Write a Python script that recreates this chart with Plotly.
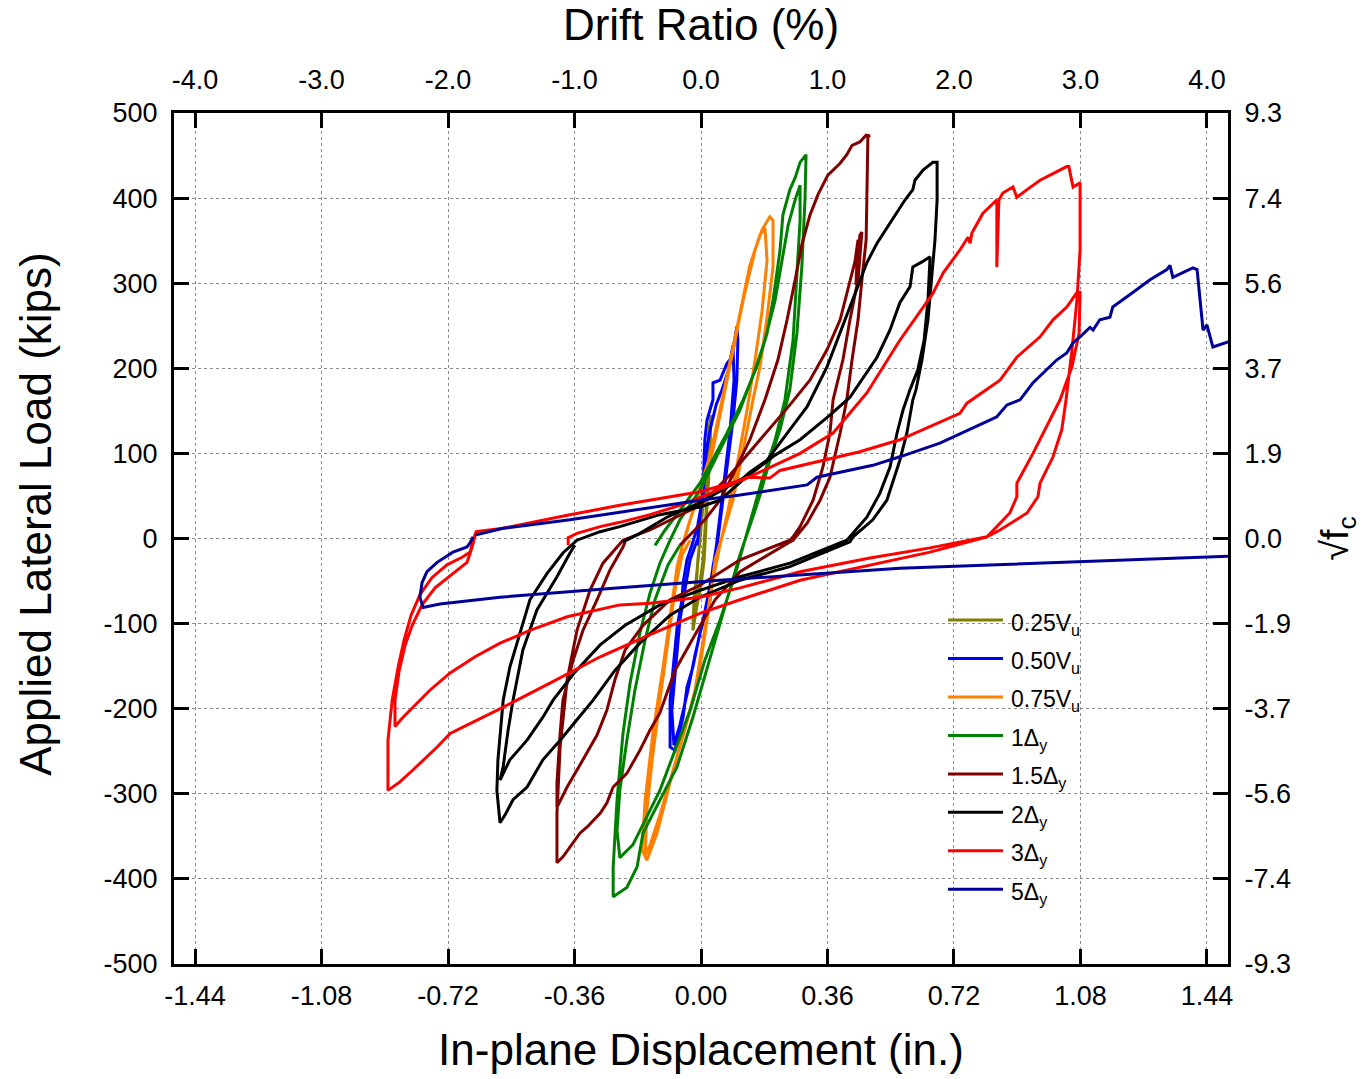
import plotly.graph_objects as go

# In-plane displacement (in.) vs. applied lateral load (kips) for each loading stage.
LOAD_025VU = [(-0.003, -2), (0.003, 39), (0.011, 80), (0.020, 116), (0.028, 145), (0.026, 104),
              (0.020, 57), (0.014, 10), (0.009, -25), (0.000, -55), (-0.011, -78), (-0.023, -108),
              (-0.020, -72), (-0.011, -37), (-0.003, -2), (0.006, 39), (0.014, 80), (0.023, 116),
              (0.020, 69), (0.014, 22), (0.006, -25), (-0.006, -61), (-0.017, -90), (-0.014, -61),
              (-0.009, -25), (-0.003, -2)]

LOAD_050VU = [(-0.011, -8), (-0.003, 22), (0.006, 61), (0.011, 116), (0.017, 139), (0.034, 163),
              (0.034, 183), (0.054, 186), (0.074, 206), (0.088, 213), (0.102, 249), (0.105, 233),
              (0.102, 186), (0.091, 139), (0.077, 92), (0.063, 45), (0.054, 16), (0.046, -8),
              (0.034, -33), (0.026, -72), (-0.003, -111), (-0.023, -151), (-0.040, -175),
              (-0.051, -210), (-0.074, -249), (-0.088, -245), (-0.088, -190), (-0.074, -131),
              (-0.068, -104), (-0.054, -72), (-0.051, -52), (-0.040, -25), (-0.026, -8),
              (-0.009, 16), (0.006, 51), (0.014, 98), (0.026, 128), (0.043, 157), (0.060, 175),
              (0.077, 196), (0.091, 227), (0.094, 186), (0.083, 128), (0.068, 75), (0.054, 28),
              (0.043, -11), (0.026, -55), (0.006, -96), (-0.017, -137), (-0.037, -178),
              (-0.060, -219), (-0.077, -243), (-0.083, -202), (-0.071, -143), (-0.060, -96),
              (-0.046, -61), (-0.031, -25), (-0.011, -2)]

LOAD_075VU = [(-0.051, -8), (-0.031, 22), (0.006, 65), (0.034, 104), (0.063, 163), (0.091, 222),
              (0.120, 280), (0.154, 339), (0.174, 363), (0.196, 378), (0.205, 374), (0.205, 319),
              (0.188, 260), (0.168, 202), (0.148, 163), (0.120, 104), (0.091, 45), (0.063, 6),
              (0.040, -25), (0.026, -72), (-0.003, -151), (-0.023, -190), (-0.051, -229),
              (-0.088, -287), (-0.125, -346), (-0.154, -378), (-0.168, -366), (-0.159, -307),
              (-0.137, -229), (-0.108, -151), (-0.088, -92), (-0.068, -33), (-0.051, -5),
              (-0.031, 22), (-0.003, 57), (0.026, 98), (0.054, 151), (0.083, 210), (0.111, 268),
              (0.139, 321), (0.168, 357), (0.182, 365), (0.188, 327), (0.174, 268), (0.154, 210),
              (0.131, 151), (0.105, 92), (0.077, 33), (0.054, -8), (0.031, -55), (0.006, -119),
              (-0.017, -178), (-0.046, -225), (-0.083, -278), (-0.117, -325), (-0.145, -360),
              (-0.159, -372), (-0.154, -319), (-0.139, -260), (-0.117, -190), (-0.094, -119),
              (-0.074, -61), (-0.054, -19), (-0.031, -2)]

LOAD_1DY = [(-0.131, -8), (-0.102, 10), (-0.060, 33), (-0.003, 65), (0.074, 124), (0.120, 163),
            (0.159, 202), (0.188, 241), (0.205, 280), (0.225, 339), (0.233, 380), (0.253, 410),
            (0.268, 424), (0.282, 442), (0.299, 451), (0.296, 398), (0.287, 319), (0.273, 241),
            (0.253, 175), (0.225, 128), (0.196, 92), (0.168, 51), (0.145, 22), (0.125, -2),
            (0.111, -19), (0.097, -39), (0.074, -72), (0.046, -111), (0.017, -151), (-0.023, -210),
            (-0.068, -268), (-0.117, -307), (-0.165, -346), (-0.182, -386), (-0.211, -410),
            (-0.250, -421), (-0.250, -386), (-0.239, -307), (-0.222, -229), (-0.202, -170),
            (-0.174, -111), (-0.145, -64), (-0.117, -29), (-0.088, -2), (-0.060, 22), (-0.003, 57),
            (0.054, 104), (0.111, 151), (0.154, 198), (0.182, 233), (0.211, 280), (0.231, 327),
            (0.248, 368), (0.268, 398), (0.282, 415), (0.282, 374), (0.273, 304), (0.262, 233),
            (0.239, 163), (0.211, 116), (0.174, 69), (0.145, 28), (0.125, -2), (0.097, -43),
            (0.054, -96), (0.011, -143), (-0.031, -202), (-0.074, -249), (-0.117, -296),
            (-0.159, -331), (-0.194, -360), (-0.231, -375), (-0.239, -343), (-0.231, -296),
            (-0.211, -237), (-0.188, -178), (-0.159, -119), (-0.131, -72), (-0.094, -31),
            (-0.060, -8)]

LOAD_15DY = [(-0.060, -8), (-0.031, 4), (0.011, 22), (0.054, 45), (0.091, 75), (0.139, 116),
             (0.182, 163), (0.219, 210), (0.245, 257), (0.268, 304), (0.287, 345), (0.310, 380),
             (0.333, 404), (0.361, 427), (0.396, 441), (0.415, 451), (0.430, 462), (0.452, 466),
             (0.470, 474), (0.481, 473), (0.475, 472), (0.472, 398), (0.470, 351), (0.458, 304),
             (0.447, 257), (0.430, 210), (0.415, 163), (0.396, 124), (0.367, 72), (0.339, 45),
             (0.302, 18), (0.262, -2), (0.253, -4), (0.111, -39), (0.040, -72), (-0.017, -113),
             (-0.074, -155), (-0.117, -205), (-0.145, -225), (-0.174, -249), (-0.211, -276),
             (-0.250, -292), (-0.268, -311), (-0.287, -323), (-0.324, -339), (-0.344, -346),
             (-0.373, -363), (-0.393, -374), (-0.410, -381), (-0.410, -323), (-0.401, -245),
             (-0.381, -166), (-0.353, -108), (-0.316, -61), (-0.279, -29), (-0.239, -10),
             (-0.222, -2), (-0.145, 10), (-0.088, 22), (-0.003, 39), (0.083, 75), (0.168, 116),
             (0.253, 157), (0.310, 186), (0.359, 222), (0.396, 257), (0.418, 292), (0.438, 325),
             (0.447, 351), (0.441, 298), (0.452, 356), (0.458, 360), (0.447, 304), (0.424, 257),
             (0.404, 210), (0.376, 163), (0.367, 124), (0.347, 84), (0.319, 45), (0.282, 14),
             (0.262, 2), (0.253, -2), (0.111, -25), (-0.003, -55), (-0.088, -72), (-0.165, -102),
             (-0.216, -131), (-0.245, -166), (-0.268, -202), (-0.296, -231), (-0.336, -260),
             (-0.381, -292), (-0.410, -316), (-0.410, -287), (-0.401, -229), (-0.393, -190),
             (-0.364, -143), (-0.336, -108), (-0.296, -72), (-0.259, -37), (-0.222, -10),
             (-0.216, -4)]

LOAD_2DY = [(-0.222, -4), (-0.174, 6), (-0.097, 25), (-0.003, 42), (0.026, 49), (0.097, 66),
            (0.120, 71), (0.139, 78), (0.188, 92), (0.253, 128), (0.302, 155), (0.359, 202),
            (0.424, 272), (0.472, 324), (0.501, 347), (0.538, 371), (0.581, 398), (0.603, 410),
            (0.609, 421), (0.632, 433), (0.660, 442), (0.672, 442), (0.672, 398), (0.666, 351),
            (0.657, 304), (0.646, 257), (0.629, 210), (0.612, 175), (0.603, 163), (0.586, 124),
            (0.566, 92), (0.529, 45), (0.489, 22), (0.452, 8), (0.433, 2), (0.424, -4),
            (0.253, -33), (0.111, -49), (-0.003, -69), (-0.088, -90), (-0.174, -123),
            (-0.245, -155), (-0.307, -190), (-0.353, -213), (-0.401, -237), (-0.450, -260),
            (-0.495, -292), (-0.535, -307), (-0.558, -325), (-0.572, -334), (-0.581, -296),
            (-0.578, -260), (-0.572, -229), (-0.563, -190), (-0.544, -151), (-0.515, -111),
            (-0.487, -72), (-0.438, -41), (-0.393, -17), (-0.353, -2), (-0.287, 8), (-0.231, 14),
            (-0.117, 28), (-0.003, 37), (0.054, 45), (0.125, 71), (0.211, 98), (0.282, 116),
            (0.367, 145), (0.424, 166), (0.467, 192), (0.501, 213), (0.538, 245), (0.566, 277),
            (0.595, 296), (0.603, 319), (0.629, 325), (0.652, 331), (0.646, 280), (0.635, 233),
            (0.617, 198), (0.595, 175), (0.575, 151), (0.558, 124), (0.538, 84), (0.509, 53),
            (0.472, 25), (0.424, 2), (0.415, -2), (0.253, -29), (0.111, -45), (-0.003, -61),
            (-0.117, -78), (-0.216, -102), (-0.287, -125), (-0.359, -157), (-0.421, -190),
            (-0.450, -210), (-0.495, -237), (-0.544, -260), (-0.572, -284), (-0.563, -268),
            (-0.549, -225), (-0.535, -190), (-0.507, -131), (-0.467, -84), (-0.410, -45),
            (-0.373, -17), (-0.359, -8)]

LOAD_3DY = [(-0.378, -8), (-0.378, 1), (-0.353, 6), (-0.287, 14), (-0.231, 19), (-0.145, 28),
            (-0.060, 39), (0.026, 53), (0.131, 72), (0.196, 71), (0.225, 80), (0.319, 89),
            (0.452, 102), (0.566, 116), (0.737, 147), (0.757, 159), (0.851, 186), (0.899, 213),
            (0.965, 237), (1.002, 257), (1.041, 272), (1.070, 289), (1.079, 289), (1.076, 241),
            (1.056, 202), (1.022, 163), (0.979, 128), (0.945, 100), (0.899, 65), (0.899, 49),
            (0.879, 30), (0.814, 2), (0.652, -16), (0.481, -31), (0.282, -49), (0.111, -72),
            (-0.003, -88), (-0.145, -113), (-0.287, -139), (-0.430, -170), (-0.581, -202),
            (-0.714, -229), (-0.751, -245), (-0.820, -272), (-0.857, -286), (-0.891, -296),
            (-0.891, -237), (-0.879, -190), (-0.862, -151), (-0.845, -119), (-0.825, -90),
            (-0.800, -66), (-0.766, -46), (-0.723, -31), (-0.680, -22), (-0.657, -16),
            (-0.649, -2), (-0.640, 8), (-0.563, 12), (-0.373, 28), (-0.231, 39), (-0.003, 55),
            (0.120, 69), (0.282, 100), (0.376, 124), (0.472, 171), (0.566, 233), (0.660, 288),
            (0.689, 312), (0.737, 339), (0.760, 354), (0.766, 347), (0.771, 359), (0.802, 382),
            (0.842, 398), (0.842, 319), (0.848, 398), (0.859, 406), (0.888, 413), (0.899, 401),
            (0.914, 406), (0.928, 410), (0.965, 421), (1.041, 437), (1.047, 437), (1.059, 413),
            (1.079, 418), (1.079, 339), (1.070, 280), (1.056, 222), (1.039, 163), (1.027, 128),
            (1.002, 96), (0.965, 65), (0.959, 49), (0.928, 30), (0.851, 10), (0.814, 2),
            (0.652, -11), (0.481, -23), (0.282, -39), (0.111, -58), (-0.003, -69), (-0.145, -76),
            (-0.231, -78), (-0.381, -92), (-0.487, -108), (-0.572, -123), (-0.643, -139),
            (-0.714, -158), (-0.771, -178), (-0.820, -198), (-0.848, -210), (-0.871, -221),
            (-0.871, -190), (-0.859, -155), (-0.842, -125), (-0.822, -102), (-0.794, -78),
            (-0.757, -58), (-0.709, -42), (-0.666, -28), (-0.652, -11), (-0.643, 4)]

LOAD_5DY = [(-0.643, 4), (-0.563, 12), (-0.373, 22), (-0.231, 31), (-0.003, 45), (0.111, 51),
            (0.302, 63), (0.330, 72), (0.489, 86), (0.566, 96), (0.680, 112), (0.822, 139),
            (0.842, 143), (0.871, 157), (0.908, 163), (0.945, 183), (0.973, 194), (1.013, 210),
            (1.041, 218), (1.059, 230), (1.079, 237), (1.107, 248), (1.116, 245), (1.135, 257),
            (1.164, 260), (1.172, 272), (1.229, 289), (1.278, 304), (1.326, 316), (1.335, 321),
            (1.343, 307), (1.400, 318), (1.412, 316), (1.429, 245), (1.440, 251), (1.457, 225),
            (1.500, 231), (1.560, 238), (1.560, -20), (1.500, -21), (0.566, -35), (0.054, -49),
            (-0.231, -58), (-0.572, -69), (-0.743, -77), (-0.791, -81), (-0.800, -69),
            (-0.794, -52), (-0.780, -39), (-0.751, -28), (-0.706, -16), (-0.666, -10),
            (-0.657, -5), (-0.649, 2)]

STAGE_NAMES = ["0.25V<sub>u</sub>", "0.50V<sub>u</sub>", "0.75V<sub>u</sub>", "1Δ<sub>y</sub>",
               "1.5Δ<sub>y</sub>", "2Δ<sub>y</sub>", "3Δ<sub>y</sub>", "5Δ<sub>y</sub>"]
STAGE_COLORS = ["#808000", "#0000FF", "#FF8000", "#008000", "#800000", "#000000", "#FF0000", "#000099"]
STAGE_DATA = [LOAD_025VU, LOAD_050VU, LOAD_075VU, LOAD_1DY, LOAD_15DY, LOAD_2DY, LOAD_3DY, LOAD_5DY]

# Axis ticks
DISP_TICKS = [-1.44, -1.08, -0.72, -0.36, 0.00, 0.36, 0.72, 1.08, 1.44]
DRIFT_TICKS = [-4.0, -3.0, -2.0, -1.0, 0.0, 1.0, 2.0, 3.0, 4.0]
LOAD_TICKS = [-500, -400, -300, -200, -100, 0, 100, 200, 300, 400, 500]
ROOT_FC_PER_100KIPS = 1.86
DISP_RANGE = [-1.5, 1.5]
LOAD_RANGE = [-500, 500]
DISP_PER_PCT_DRIFT = 0.36  # inches of displacement per 1 % drift

FONT = "Liberation Sans, Arial, sans-serif"
LINE_W = 3

fig = go.Figure()

for name, color, data in zip(STAGE_NAMES, STAGE_COLORS, STAGE_DATA):
    fig.add_trace(go.Scatter(
        x=[p[0] for p in data], y=[p[1] for p in data],
        mode="lines", name=name,
        line=dict(color=color, width=LINE_W),
        hoverinfo="skip", showlegend=False,
    ))

# Carrier trace for the secondary (drift ratio / root f'c) axes
fig.add_trace(go.Scatter(
    x=[DISP_RANGE[0] / DISP_PER_PCT_DRIFT, DISP_RANGE[1] / DISP_PER_PCT_DRIFT],
    y=[LOAD_RANGE[0] / 100 * ROOT_FC_PER_100KIPS, LOAD_RANGE[1] / 100 * ROOT_FC_PER_100KIPS],
    xaxis="x2", yaxis="y2", mode="lines", line=dict(width=0),
    opacity=0, showlegend=False, hoverinfo="skip",
))

# Legend drawn as a key inside the plot area (long sample lines)
legend_left, legend_line_len, legend_top, legend_step = 0.7343, 0.0522, 0.4042, 0.0452
shapes, annotations = [], []
for i, (name, color) in enumerate(zip(STAGE_NAMES, STAGE_COLORS)):
    yy = legend_top - i * legend_step
    shapes.append(dict(type="line", xref="paper", yref="paper",
                       x0=legend_left, x1=legend_left + legend_line_len, y0=yy, y1=yy,
                       line=dict(color=color, width=LINE_W)))
    annotations.append(dict(xref="paper", yref="paper", x=legend_left + legend_line_len + 0.006,
                            y=yy, xanchor="left", yanchor="middle", yshift=-4,
                            text=name, showarrow=False,
                            font=dict(family=FONT, size=23, color="black")))

# Load axis title, set slightly above centre
annotations.append(dict(xref="paper", yref="paper", x=-0.131, y=0.529,
                        xanchor="center", yanchor="middle", textangle=-90,
                        text="Applied Lateral Load (kips)", showarrow=False,
                        font=dict(family=FONT, size=44, color="black")))

tick_font = dict(family=FONT, size=27, color="black")
title_font = dict(family=FONT, size=44, color="black")
grid_style = dict(showgrid=True, gridcolor="#8c8c8c", gridwidth=1, griddash="dot")
frame = dict(showline=True, linecolor="black", linewidth=3, ticks="inside",
             ticklen=15, tickwidth=3, tickcolor="black", zeroline=False)

root_fc_vals = [round(v / 100 * ROOT_FC_PER_100KIPS, 2) for v in LOAD_TICKS]

fig.update_layout(
    width=1365, height=1079,
    margin=dict(l=174, r=137, t=113, b=115),
    paper_bgcolor="white", plot_bgcolor="white",
    font=dict(family=FONT, color="black"),
    showlegend=False,
    shapes=shapes, annotations=annotations,
    xaxis=dict(range=DISP_RANGE, tickvals=DISP_TICKS,
               ticktext=[f"{v:.2f}" for v in DISP_TICKS],
               tickfont=tick_font, ticklabelstandoff=6,
               title=dict(text="In-plane Displacement (in.)", font=title_font, standoff=24),
               **grid_style, **frame),
    yaxis=dict(range=LOAD_RANGE, tickvals=LOAD_TICKS,
               ticktext=[str(v) for v in LOAD_TICKS],
               tickfont=tick_font, ticklabelstandoff=8,
               **grid_style, **frame),
    xaxis2=dict(overlaying="x", side="top", anchor="y",
                range=[DISP_RANGE[0] / DISP_PER_PCT_DRIFT, DISP_RANGE[1] / DISP_PER_PCT_DRIFT],
                tickvals=DRIFT_TICKS, ticktext=[f"{v:.1f}" for v in DRIFT_TICKS],
                tickfont=tick_font, ticklabelstandoff=10, showgrid=False,
                title=dict(text="Drift Ratio (%)", font=title_font, standoff=14),
                **frame),
    yaxis2=dict(overlaying="y", side="right", anchor="x",
                range=[LOAD_RANGE[0] / 100 * ROOT_FC_PER_100KIPS, LOAD_RANGE[1] / 100 * ROOT_FC_PER_100KIPS],
                tickvals=root_fc_vals, ticktext=[f"{v:.1f}" for v in root_fc_vals],
                tickfont=tick_font, ticklabelstandoff=8, showgrid=False,
                title=dict(text="√f<sub>c</sub>", font=dict(family=FONT, size=38, color="black"),
                           standoff=32),
                **frame),
)

fig.write_html("out.html")
